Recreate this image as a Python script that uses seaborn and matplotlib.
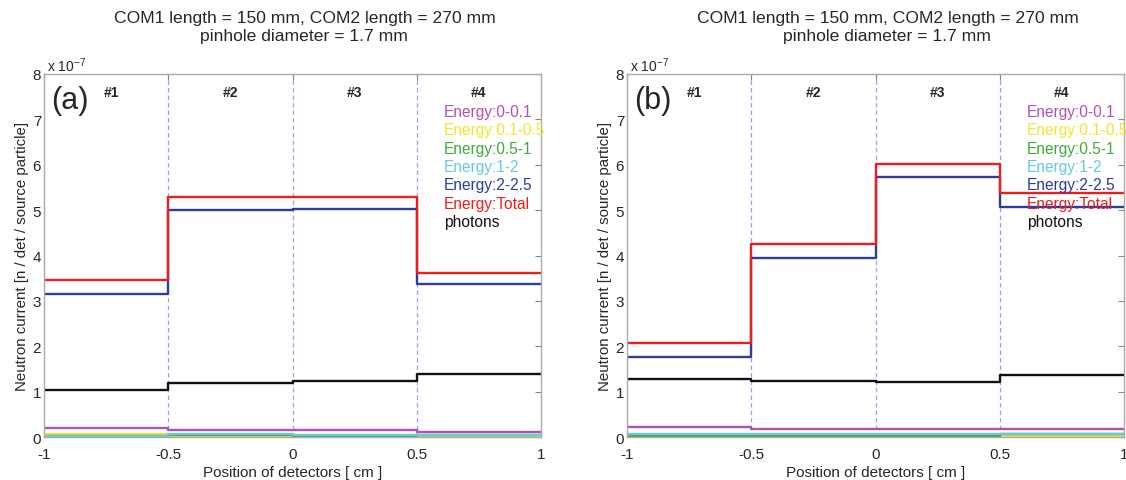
import numpy as np
import pandas as pd
import matplotlib
matplotlib.use('Agg')
import matplotlib.pyplot as plt
import seaborn as sns

sns.set_style('white')
plt.rcParams['font.family'] = ['Liberation Sans', 'DejaVu Sans']

# detector edges (cm) and labels
edges = [-1.0, -0.5, 0.0, 0.5, 1.0]
det_labels = ['#1', '#2', '#3', '#4']
det_centers = [-0.73, -0.25, 0.25, 0.75]

series = ['Energy:0-0.1', 'Energy:0.1-0.5', 'Energy:0.5-1', 'Energy:1-2',
          'Energy:2-2.5', 'Energy:Total', 'photons']
colors = ['#b44fb4', '#f2e62a', '#3faa3a', '#66c9e2', '#2c3d9c', '#ee1c1c', '#111111']

# values per detector, units of 1e-7
a_e0 = [0.19, 0.15, 0.16, 0.10]
a_e1 = [0.07, 0.02, 0.02, 0.03]
a_e2 = [0.02, 0.04, 0.03, 0.05]
a_e3 = [0.03, 0.06, 0.05, 0.04]
a_e4 = [3.15, 5.01, 5.03, 3.38]
a_tot = [3.46, 5.30, 5.28, 3.62]
a_ph = [1.03, 1.19, 1.23, 1.39]

b_e0 = [0.21, 0.17, 0.18, 0.18]
b_e1 = [0.02, 0.02, 0.02, 0.03]
b_e2 = [0.03, 0.03, 0.03, 0.06]
b_e3 = [0.07, 0.06, 0.06, 0.07]
b_e4 = [1.76, 3.94, 5.72, 5.06]
b_tot = [2.07, 4.26, 6.02, 5.37]
b_ph = [1.27, 1.24, 1.21, 1.36]

panel_a = [a_e0, a_e1, a_e2, a_e3, a_e4, a_tot, a_ph]
panel_b = [b_e0, b_e1, b_e2, b_e3, b_e4, b_tot, b_ph]

title_lines = ['COM1 length = 150 mm, COM2 length = 270 mm',
               'pinhole diameter = 1.7 mm']


def to_frame(panel):
    rows = []
    for name, vals in zip(series, panel):
        ys = list(vals) + [vals[-1]]
        for x, y in zip(edges, ys):
            rows.append({'x': x, 'y': y, 'series': name})
    return pd.DataFrame(rows)


def draw_panel(ax, panel, tag):
    df = to_frame(panel)
    sns.lineplot(data=df, x='x', y='y', hue='series', hue_order=series,
                 palette=dict(zip(series, colors)), estimator=None,
                 drawstyle='steps-post', linewidth=1.7, ax=ax, legend=False)
    for xv in edges[1:-1]:
        ax.axvline(xv, color='#a0a0e0', linestyle=(0, (3.5, 2.5)), linewidth=0.9, zorder=0)
    ax.set_xlim(-1, 1)
    ax.set_ylim(0, 8)
    ax.set_xticks([-1, -0.5, 0, 0.5, 1])
    ax.set_xticklabels(['-1', '-0.5', '0', '0.5', '1'])
    ax.set_yticks(range(9))
    ax.tick_params(direction='in', length=4, labelsize=11, top=True, right=True,
                   color='#888888')
    ax.tick_params(axis='x', pad=7)
    ax.tick_params(axis='y', pad=2)
    for s in ax.spines.values():
        s.set_color('#aaaaaa')
        s.set_linewidth(1.0)
    ax.set_xlabel('Position of detectors [ cm ]', fontsize=11, labelpad=3)
    ax.set_ylabel('Neutron current [n / det / source particle]', fontsize=10.8, labelpad=3)
    ax.text(0.524, 1.157, title_lines[0], transform=ax.transAxes, fontsize=12.6,
            ha='center', va='center')
    ax.text(0.524, 1.105, title_lines[1], transform=ax.transAxes, fontsize=12.6,
            ha='center', va='center')
    ax.text(0.006, 1.0, r'x 10$^{\mathregular{-7}}$', transform=ax.transAxes,
            fontsize=10, ha='left', va='bottom')
    ax.text(0.015, 0.97, tag, transform=ax.transAxes, fontsize=22,
            ha='left', va='top')
    for c, lab in zip(det_centers, det_labels):
        ax.text(c, 7.6, lab, fontsize=10, ha='center', va='center', fontweight='bold')
    y0 = 0.897
    for i, (name, col) in enumerate(zip(series, colors)):
        ax.text(0.805, y0 - i * 0.0505, name, transform=ax.transAxes, color=col,
                fontsize=11.2, ha='left', va='center', clip_on=False)


fig = plt.figure(figsize=(11.26, 4.81), dpi=100)
W, H = 1126, 481
ax1 = fig.add_axes([44 / W, 1 - 438 / H, 497 / W, 363 / H])
ax2 = fig.add_axes([627 / W, 1 - 438 / H, 497 / W, 363 / H])
draw_panel(ax1, panel_a, '(a)')
draw_panel(ax2, panel_b, '(b)')

fig.savefig('out.png', dpi=100)
